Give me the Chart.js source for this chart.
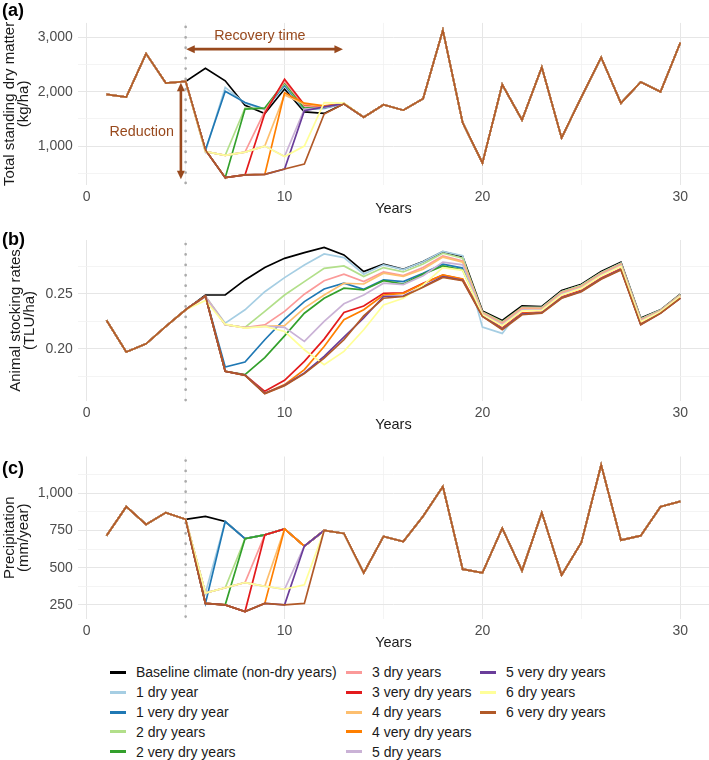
<!DOCTYPE html>
<html>
<head>
<meta charset="utf-8">
<script src="https://cdn.jsdelivr.net/npm/chart.js@4.4.1/dist/chart.umd.min.js"></script>
<style>
  body { margin: 0; background: #fff; font-family: "Liberation Sans", Arial, sans-serif; }
  #pagina { position: relative; width: 709px; height: 760px; overflow: hidden; }
  .painel { position: absolute; left: 0; width: 709px; }
  .tag { position: absolute; left: 2px; font-weight: bold; font-size: 18px; line-height: 1; color: #000; }
  .leg-item { position: absolute; height: 20px; display: flex; align-items: center; font-size: 14px; color: #1a1a1a; white-space: nowrap; }
  .leg-item .linha { width: 16px; height: 3px; margin-right: 10px; }
</style>
</head>
<body>
<div id="pagina">
  <div class="painel" style="top:0;height:220px"><canvas id="grafA"></canvas></div>
  <div class="painel" style="top:220px;height:216px"><canvas id="grafB"></canvas></div>
  <div class="painel" style="top:436px;height:218px"><canvas id="grafC"></canvas></div>
  <div class="tag" style="top:1px">(a)</div>
  <div class="tag" style="top:230px">(b)</div>
  <div class="tag" style="top:459px">(c)</div>
  <div id="legenda"></div>
</div>
<script>
// ==========================================
// DADOS
// ==========================================
const anos = [1, 2, 3, 4, 5, 6, 7, 8, 9, 10, 11, 12, 13, 14, 15, 16, 17, 18, 19, 20, 21, 22, 23, 24, 25, 26, 27, 28, 29, 30];

const cenarios = [
    "Baseline climate (non-dry years)", "1 dry year", "1 very dry year", "2 dry years", "2 very dry years",
    "3 dry years", "3 very dry years", "4 dry years", "4 very dry years", "5 dry years",
    "5 very dry years", "6 dry years", "6 very dry years"
];
const cores = ["#000000", "#A6CEE3", "#1F78B4", "#B2DF8A", "#33A02C", "#FB9A99", "#E31A1C",
               "#FDBF6F", "#FF7F00", "#CAB2D6", "#6A3D9A", "#FFFF99", "#B15928"];

// quantos anos secos (a partir do ano 6) e se são muito secos
const anosSecos = [0, 1, 1, 2, 2, 3, 3, 4, 4, 5, 5, 6, 6];
const muitoSeco = [false, false, true, false, true, false, true, false, true, false, true, false, true];

// (a) matéria seca total (kg/ha) - clima de referência, anos 1-30
const msBase = [1950, 1900, 2700, 2160, 2190, 2430, 2200, 1750, 1600, 2050, 1630, 1600, 1780, 1530, 1760,
                1660, 1870, 3130, 1430, 690, 2130, 1480, 2450, 1150, 1900, 2630, 1790, 2180, 2000, 2900];
// anos 6-13 de cada cenário seco
const ms1Seco       = [900, 2080, 1790, 1670, 2100, 1670, 1690, 1780];
const ms1MuitoSeco  = [930, 2010, 1800, 1680, 2120, 1680, 1700, 1780];
const ms2Seco       = [900, 830, 1700, 1690, 2150, 1690, 1710, 1780];
const ms2MuitoSeco  = [930, 420, 1680, 1700, 2170, 1700, 1720, 1780];
const ms3Seco       = [900, 830, 890, 1640, 2190, 1740, 1720, 1780];
const ms3MuitoSeco  = [930, 420, 470, 1600, 2230, 1760, 1730, 1780];
const ms4Seco       = [900, 830, 890, 1000, 1940, 1770, 1730, 1780];
const ms4MuitoSeco  = [930, 420, 470, 480, 1980, 1790, 1740, 1780];
const ms5Seco       = [900, 830, 890, 1000, 810, 1680, 1710, 1780];
const ms5MuitoSeco  = [930, 420, 470, 480, 580, 1650, 1720, 1780];
const ms6Seco       = [900, 830, 890, 1000, 810, 1000, 1800, 1790];
const ms6MuitoSeco  = [930, 420, 470, 480, 580, 670, 1590, 1780];

// (b) taxa de lotação (TLU/ha) - anos 1-5 iguais para todos
const lotInicio = [0.226, 0.197, 0.2045, 0.2203, 0.2355];
// anos 6-30 de cada cenário
const lotBase        = [0.249, 0.249, 0.2627, 0.274, 0.2824, 0.2876, 0.2924, 0.2855, 0.2703, 0.277, 0.2724, 0.2794, 0.2885, 0.284, 0.2345, 0.2258, 0.239, 0.2385, 0.253, 0.2588, 0.2703, 0.2788, 0.2279, 0.2355, 0.2497];
const lot1Seco       = [0.248, 0.2233, 0.2355, 0.252, 0.2648, 0.2764, 0.2864, 0.283, 0.268, 0.2765, 0.2722, 0.2792, 0.2888, 0.2848, 0.2197, 0.214, 0.2375, 0.2375, 0.252, 0.2578, 0.2693, 0.278, 0.2272, 0.2352, 0.2493];
const lot1MuitoSeco  = [0.248, 0.1833, 0.1879, 0.2082, 0.227, 0.243, 0.2545, 0.2597, 0.2542, 0.2627, 0.2612, 0.2688, 0.277, 0.2735, 0.2325, 0.223, 0.2365, 0.2365, 0.2508, 0.2566, 0.268, 0.2766, 0.226, 0.2344, 0.2486];
const lot2Seco       = [0.2475, 0.222, 0.2194, 0.234, 0.249, 0.2612, 0.2733, 0.2755, 0.2658, 0.274, 0.270, 0.2773, 0.287, 0.2825, 0.2335, 0.2245, 0.2378, 0.2375, 0.252, 0.2578, 0.2692, 0.2778, 0.227, 0.235, 0.2492];
const lot2MuitoSeco  = [0.248, 0.1794, 0.1764, 0.192, 0.2118, 0.2324, 0.246, 0.2552, 0.2536, 0.262, 0.259, 0.268, 0.2755, 0.2718, 0.2318, 0.2222, 0.2358, 0.2358, 0.25, 0.256, 0.2675, 0.276, 0.2254, 0.2341, 0.2483];
const lot3Seco       = [0.2475, 0.222, 0.2192, 0.2218, 0.234, 0.2497, 0.262, 0.268, 0.2612, 0.270, 0.2667, 0.274, 0.2845, 0.280, 0.2328, 0.2235, 0.237, 0.2368, 0.2512, 0.257, 0.2685, 0.277, 0.2263, 0.2346, 0.2488];
const lot3MuitoSeco  = [0.248, 0.1794, 0.176, 0.1612, 0.1712, 0.1885, 0.2088, 0.233, 0.239, 0.2506, 0.251, 0.2597, 0.267, 0.2633, 0.2305, 0.219, 0.2325, 0.2335, 0.2472, 0.2532, 0.2645, 0.273, 0.2228, 0.2328, 0.2466];
const lot4Seco       = [0.2475, 0.222, 0.2192, 0.2205, 0.221, 0.237, 0.249, 0.2597, 0.259, 0.2688, 0.266, 0.2725, 0.2835, 0.279, 0.232, 0.2225, 0.236, 0.236, 0.2503, 0.2562, 0.2677, 0.2762, 0.2256, 0.2342, 0.2484];
const lot4MuitoSeco  = [0.248, 0.1794, 0.176, 0.1595, 0.1673, 0.181, 0.2021, 0.2264, 0.2355, 0.249, 0.2505, 0.2592, 0.2672, 0.2635, 0.2302, 0.2185, 0.232, 0.2332, 0.2468, 0.2528, 0.2641, 0.2726, 0.2225, 0.2327, 0.2464];
const lot5Seco       = [0.2475, 0.222, 0.2192, 0.2205, 0.2195, 0.2067, 0.2249, 0.241, 0.249, 0.2597, 0.2585, 0.2665, 0.279, 0.2765, 0.2315, 0.222, 0.2355, 0.2355, 0.2498, 0.2557, 0.2672, 0.2757, 0.2252, 0.234, 0.2482];
const lot5MuitoSeco  = [0.248, 0.1794, 0.176, 0.1595, 0.1668, 0.1779, 0.193, 0.2106, 0.228, 0.2476, 0.248, 0.2567, 0.2658, 0.2625, 0.2298, 0.218, 0.2315, 0.2328, 0.2464, 0.2524, 0.2637, 0.2722, 0.2221, 0.2326, 0.2462];
const lot6Seco       = [0.244, 0.2224, 0.2188, 0.2203, 0.2158, 0.1991, 0.1855, 0.1976, 0.2173, 0.240, 0.246, 0.258, 0.274, 0.2715, 0.231, 0.221, 0.2345, 0.235, 0.249, 0.255, 0.2665, 0.275, 0.2245, 0.2337, 0.2478];
const lot6MuitoSeco  = [0.248, 0.1794, 0.1758, 0.1591, 0.1664, 0.1773, 0.1915, 0.2082, 0.230, 0.246, 0.2476, 0.256, 0.265, 0.262, 0.2294, 0.2173, 0.231, 0.2324, 0.246, 0.252, 0.2633, 0.2718, 0.2218, 0.2324, 0.246];

// (c) precipitação (mm/ano)
const chuvaBase = [715, 910, 790, 870, 825, 845, 810, 695, 720, 760, 645, 750, 730, 465, 710,
                   675, 845, 1045, 490, 465, 765, 480, 870, 450, 670, 1190, 685, 715, 910, 945];
const chuvaSeco      = [330, 365, 400, 375, 355, 385];   // anos 6-11
const chuvaMuitoSeco = [260, 250, 205, 260, 250, 260];   // anos 6-11

// eixos
const gradeX = [0, 5, 10, 15, 20, 25, 30];
const rotulosX = [0, 10, 20, 30];
const gradeYA = [500, 1000, 1500, 2000, 2500, 3000];
const rotulosYA = [1000, 2000, 3000];
const gradeYB = [0.175, 0.2, 0.225, 0.25, 0.275];
const rotulosYB = [0.2, 0.25];
const gradeYC = [250, 375, 500, 625, 750, 875, 1000, 1125];
const rotulosYC = [250, 500, 750, 1000];

// ==========================================
// MONTAGEM DAS SÉRIES
// ==========================================
const msCenarios = [msBase.slice(5, 13), ms1Seco, ms1MuitoSeco, ms2Seco, ms2MuitoSeco, ms3Seco, ms3MuitoSeco,
                    ms4Seco, ms4MuitoSeco, ms5Seco, ms5MuitoSeco, ms6Seco, ms6MuitoSeco];
const lotCenarios = [lotBase, lot1Seco, lot1MuitoSeco, lot2Seco, lot2MuitoSeco, lot3Seco, lot3MuitoSeco,
                     lot4Seco, lot4MuitoSeco, lot5Seco, lot5MuitoSeco, lot6Seco, lot6MuitoSeco];

const seriesA = msCenarios.map(rec => msBase.slice(0, 5).concat(rec, msBase.slice(13)));
const seriesB = lotCenarios.map(rec => lotInicio.concat(rec));
const seriesC = cenarios.map((_, i) => {
    const fonte = muitoSeco[i] ? chuvaMuitoSeco : chuvaSeco;
    return chuvaBase.map((v, k) => (k >= 5 && k < 5 + anosSecos[i]) ? fonte[k - 5] : v);
});

// ==========================================
// PLUGIN: LINHA PONTILHADA E SETAS
// ==========================================
const corSeta = "#98491d";

function desenharSeta(ctx, x1, y1, x2, y2) {
    const ang = Math.atan2(y2 - y1, x2 - x1);
    const L = 8.5, W = 4;
    const cx = Math.cos(ang), sy = Math.sin(ang);
    ctx.beginPath();
    ctx.moveTo(x1 + cx * L * 0.8, y1 + sy * L * 0.8);
    ctx.lineTo(x2 - cx * L * 0.8, y2 - sy * L * 0.8);
    ctx.stroke();
    [[x1, y1, 1], [x2, y2, -1]].forEach(([px, py, s]) => {
        ctx.beginPath();
        ctx.moveTo(px, py);
        ctx.lineTo(px + s * cx * L - sy * W, py + s * sy * L + cx * W);
        ctx.lineTo(px + s * cx * L + sy * W, py + s * sy * L - cx * W);
        ctx.closePath();
        ctx.fill();
    });
}

const pluginMarcas = {
    id: 'marcas',
    beforeDatasetsDraw(chart) {
        const { ctx, chartArea, scales: { x } } = chart;
        const px = x.getPixelForValue(5);
        ctx.save();
        ctx.strokeStyle = "#ababab";
        ctx.lineWidth = 2.7;
        ctx.lineCap = "round";
        ctx.setLineDash([0.1, 10.3]);
        ctx.beginPath();
        ctx.moveTo(px, chartArea.top + 4);
        ctx.lineTo(px, chartArea.bottom);
        ctx.stroke();
        ctx.restore();
    },
    afterDatasetsDraw(chart, args, opts) {
        if (!opts.setas) return;
        const { ctx, scales: { x, y } } = chart;
        ctx.save();
        ctx.strokeStyle = corSeta;
        ctx.fillStyle = corSeta;
        ctx.lineWidth = 2.6;
        // recovery time
        const yR = y.getPixelForValue(2782);
        desenharSeta(ctx, x.getPixelForValue(5.03), yR, x.getPixelForValue(12.95), yR);
        // reduction
        const xR = x.getPixelForValue(4.76);
        desenharSeta(ctx, xR, y.getPixelForValue(2165), xR, y.getPixelForValue(390));
        ctx.font = "14.3px 'Liberation Sans', Arial, sans-serif";
        ctx.textAlign = "center";
        ctx.textBaseline = "middle";
        ctx.fillText("Recovery time", x.getPixelForValue(8.75), y.getPixelForValue(3015));
        ctx.fillText("Reduction", x.getPixelForValue(2.78), y.getPixelForValue(1256));
        ctx.restore();
    }
};

// ==========================================
// GRÁFICOS
// ==========================================
Chart.defaults.font.family = "'Liberation Sans', Arial, sans-serif";
Chart.defaults.color = "#4d4d4d";

function criarPainel(id, series, cfg) {
    const datasets = cenarios.map((nome, i) => ({
        label: nome,
        data: anos.map((a, k) => ({ x: a, y: series[i][k] })),
        borderColor: cores[i],
        backgroundColor: cores[i],
        borderWidth: 1.7,
        pointRadius: 0,
        tension: 0,
        order: cenarios.length - i
    }));

    return new Chart(document.getElementById(id), {
        type: 'line',
        data: { datasets },
        options: {
            responsive: true,
            maintainAspectRatio: false,
            animation: false,
            events: [],
            layout: { padding: { top: cfg.topo, left: 0, right: 0, bottom: 0 } },
            plugins: { legend: { display: false }, tooltip: { enabled: false }, marcas: { setas: !!cfg.setas } },
            scales: {
                x: {
                    type: 'linear', min: -0.45, max: 31.45,
                    afterBuildTicks: s => { s.ticks = gradeX.map(v => ({ value: v })); },
                    afterFit: s => { s.height = 35; },
                    border: { display: false },
                    grid: {
                        drawTicks: false,
                        color: c => rotulosX.includes(c.tick.value) ? "#e6e6e6" : "#f1f1f1",
                        lineWidth: c => rotulosX.includes(c.tick.value) ? 1 : 0.8
                    },
                    ticks: {
                        autoSkip: false, maxRotation: 0, padding: 4,
                        font: { size: 14 }, color: "#4d4d4d",
                        callback: v => rotulosX.includes(v) ? String(v) : ''
                    },
                    title: { display: true, text: 'Years', color: "#1a1a1a", font: { size: 14.5 }, padding: { top: 0, bottom: 2.5 } }
                },
                y: {
                    min: cfg.min, max: cfg.max,
                    afterBuildTicks: s => { s.ticks = cfg.grade.map(v => ({ value: v })); },
                    afterFit: s => { s.width = 77.8; },
                    border: { display: false },
                    grid: {
                        drawTicks: false,
                        color: c => cfg.rotulos.includes(c.tick.value) ? "#e6e6e6" : "#f1f1f1",
                        lineWidth: c => cfg.rotulos.includes(c.tick.value) ? 1 : 0.8
                    },
                    ticks: {
                        autoSkip: false, padding: 5,
                        font: { size: 14 }, color: "#4d4d4d",
                        callback: v => cfg.rotulos.includes(v) ? cfg.formato(v) : ''
                    },
                    title: {
                        display: true, text: cfg.titulo, color: "#1a1a1a",
                        font: { size: 15, lineHeight: 0.97 },
                        padding: { top: cfg.recuoTitulo, bottom: 0 }
                    }
                }
            }
        },
        plugins: [pluginMarcas]
    });
}

const milhar = v => v.toLocaleString('en-US');

criarPainel('grafA', seriesA, {
    topo: 22.9, min: 285, max: 3265, grade: gradeYA, rotulos: rotulosYA, formato: milhar,
    titulo: ['Total standing dry matter', '(kg/ha)'], recuoTitulo: 2.2, setas: true
});
criarPainel('grafB', seriesB, {
    topo: 20, min: 0.1524, max: 0.2991, grade: gradeYB, rotulos: rotulosYB, formato: v => v.toFixed(2),
    titulo: ['Animal stocking rates', '(TLU/ha)'], recuoTitulo: 8.5
});
criarPainel('grafC', seriesC, {
    topo: 20.5, min: 155, max: 1247, grade: gradeYC, rotulos: rotulosYC, formato: milhar,
    titulo: ['Precipitation', '(mm/year)'], recuoTitulo: 2.2
});

// ==========================================
// LEGENDA
// ==========================================
const colunasLeg = [110, 346, 480];
const legenda = document.getElementById('legenda');
cenarios.forEach((nome, i) => {
    const item = document.createElement('div');
    item.className = 'leg-item';
    item.style.left = colunasLeg[Math.floor(i / 5)] + 'px';
    item.style.top = (662.4 + (i % 5) * 19.8) + 'px';
    item.innerHTML = `<span class="linha" style="background:${cores[i]}"></span>${nome}`;
    legenda.appendChild(item);
});
</script>
</body>
</html>
